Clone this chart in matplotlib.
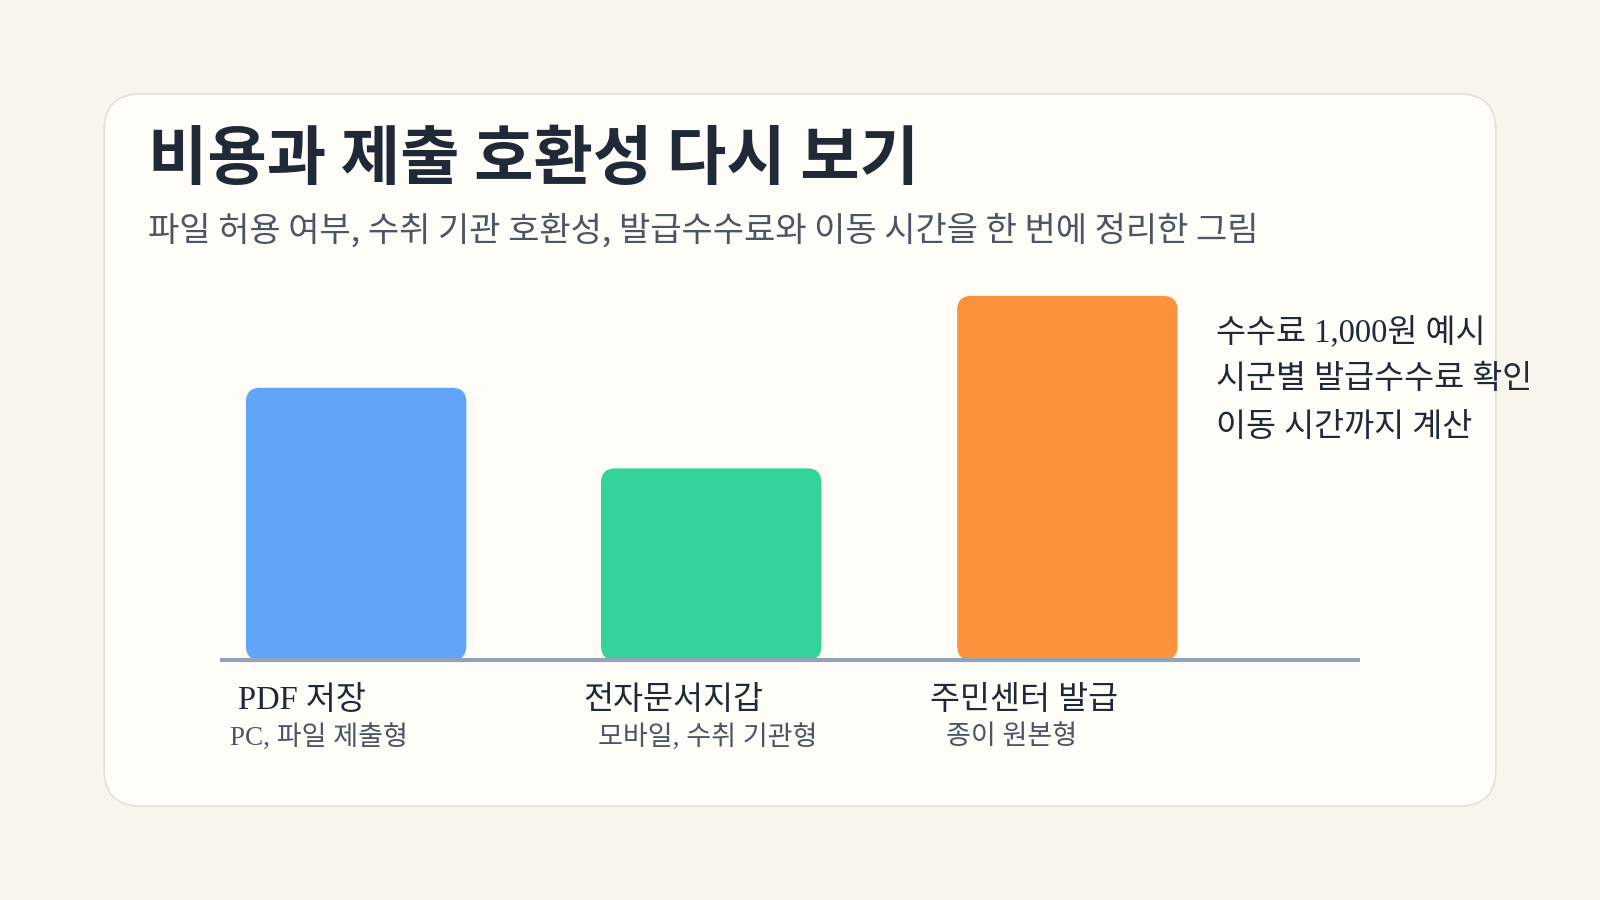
import matplotlib.pyplot as plt
from matplotlib.patches import FancyBboxPatch

categories = ["PDF 저장", "전자문서지갑", "주민센터 발급"]
sublabels = ["PC, 파일 제출형", "모바일, 수취 기관형", "종이 원본형"]
values = [267, 188, 357]
colors = ["#60a5fa", "#34d399", "#fb923c"]
notes = ["수수료 1,000원 예시", "시군별 발급수수료 확인", "이동 시간까지 계산"]

W, H = 1568, 882
base = 647
centers = [349, 697, 1046]
bar_w = 216

fig = plt.figure(figsize=(16, 9), dpi=100)
fig.patch.set_facecolor("#f7f5ec")
ax = fig.add_axes([0, 0, 1, 1])
ax.set_xlim(0, W)
ax.set_ylim(H, 0)
ax.axis("off")

card = FancyBboxPatch((102, 92), 1364, 698, boxstyle="round,pad=0,rounding_size=36",
                      facecolor="#fffdf8", edgecolor="#e2e0d8", linewidth=1.2)
ax.add_patch(card)

sans = ["Noto Sans CJK KR", "DejaVu Sans"]
serif = ["Liberation Serif", "Noto Sans CJK KR"]

ax.text(145, 157, "비용과 제출 호환성 다시 보기", fontsize=46.5, fontweight="bold",
        color="#1f2937", family=sans, va="center")
ax.text(145, 226, "파일 허용 여부, 수취 기관 호환성, 발급수수료와 이동 시간을 한 번에 정리한 그림",
        fontsize=24.5, color="#4b5563", family=sans, va="center")

for c, v, col in zip(centers, values, colors):
    ax.add_patch(FancyBboxPatch((c - bar_w / 2, base - v), bar_w, v,
                                boxstyle="round,pad=0,rounding_size=14",
                                facecolor=col, edgecolor="none"))
ax.plot([216, 1333], [base, base], color="#94a3b8", linewidth=3, solid_capstyle="butt")

label_x = [233, 572, 911]
sub_x = [225, 586, 927]
for lx, sx, cat, sub in zip(label_x, sub_x, categories, sublabels):
    ax.text(lx, 687, cat, fontsize=23.5, color="#1f2937", family=serif, va="center")
    ax.text(sx, 723, sub, fontsize=19.5, color="#4b5563", family=serif, va="center")

for i, n in enumerate(notes):
    ax.text(1192, 326 + i * 46.5, n, fontsize=23.5, color="#1f2937", family=serif, va="center")

fig.savefig("out.png", dpi=100, facecolor=fig.get_facecolor())
